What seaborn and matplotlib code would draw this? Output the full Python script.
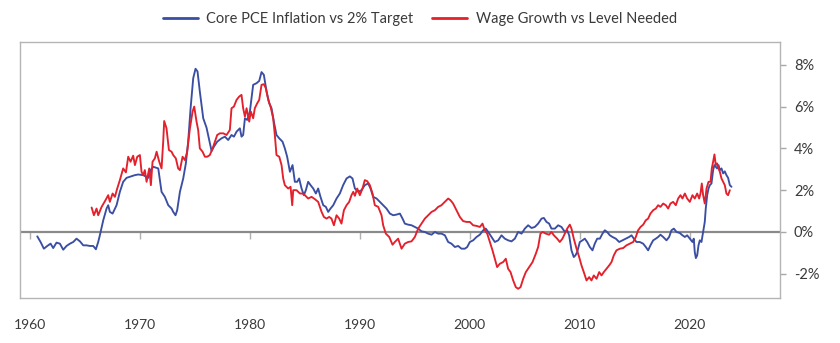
import pandas as pd
import matplotlib
matplotlib.use("Agg")
import matplotlib.pyplot as plt
import seaborn as sns

# Core PCE inflation minus the 2% target (percentage points)
core_pce_years = [
    1960.67, 1960.97, 1961.27, 1961.58, 1961.88, 1962.12, 1962.42, 1962.73, 1963.03, 1963.33,
    1963.64, 1963.94, 1964.24, 1964.55, 1964.85, 1965.15, 1965.45, 1965.76, 1966.00, 1966.21,
    1966.36, 1966.67, 1966.97, 1967.12, 1967.27, 1967.52, 1967.88, 1968.18, 1968.48, 1968.79,
    1969.09, 1969.55, 1969.85, 1970.30, 1970.76, 1970.97, 1971.21, 1971.67, 1971.97, 1972.27,
    1972.58, 1972.88, 1973.03, 1973.24, 1973.39, 1973.64, 1973.94, 1974.18, 1974.39, 1974.61,
    1974.85, 1975.06, 1975.24, 1975.45, 1975.76, 1976.06, 1976.27, 1976.52, 1976.73, 1977.03,
    1977.42, 1977.73, 1978.03, 1978.33, 1978.55, 1978.79, 1979.09, 1979.24, 1979.39, 1979.55,
    1979.76, 1980.00, 1980.30, 1980.61, 1980.85, 1981.06, 1981.27, 1981.52, 1981.76, 1981.97,
    1982.18, 1982.42, 1982.67, 1982.97, 1983.18, 1983.39, 1983.64, 1983.88, 1984.09, 1984.30,
    1984.48, 1984.70, 1984.91, 1985.09, 1985.30, 1985.52, 1985.76, 1986.00, 1986.21, 1986.42,
    1986.67, 1986.91, 1987.12, 1987.33, 1987.58, 1987.88, 1988.18, 1988.48, 1988.79, 1989.09,
    1989.33, 1989.55, 1989.85, 1990.15, 1990.45, 1990.76, 1990.97, 1991.21, 1991.52, 1991.82,
    1992.12, 1992.42, 1992.73, 1993.03, 1993.33, 1993.64, 1993.88, 1994.09, 1994.39, 1994.70,
    1995.00, 1995.30, 1995.61, 1995.91, 1996.21, 1996.52, 1996.82, 1997.12, 1997.42, 1997.73,
    1998.03, 1998.33, 1998.64, 1998.94, 1999.24, 1999.55, 1999.76, 2000.00, 2000.30, 2000.61,
    2000.91, 2001.21, 2001.45, 2001.67, 2001.97, 2002.27, 2002.58, 2002.88, 2003.18, 2003.48,
    2003.79, 2004.09, 2004.39, 2004.70, 2005.00, 2005.30, 2005.61, 2005.91, 2006.21, 2006.52,
    2006.73, 2006.97, 2007.21, 2007.42, 2007.73, 2008.03, 2008.33, 2008.64, 2008.85, 2009.03,
    2009.24, 2009.45, 2009.60, 2009.76, 2010.00, 2010.24, 2010.45, 2010.67, 2010.91, 2011.15,
    2011.36, 2011.58, 2011.82, 2012.06, 2012.27, 2012.48, 2012.73, 2012.97, 2013.27, 2013.58,
    2013.88, 2014.18, 2014.48, 2014.70, 2014.91, 2015.15, 2015.45, 2015.76, 2016.00, 2016.21,
    2016.42, 2016.67, 2016.91, 2017.12, 2017.33, 2017.58, 2017.88, 2018.12, 2018.33, 2018.55,
    2018.79, 2019.09, 2019.33, 2019.55, 2019.76, 2020.00, 2020.24, 2020.36, 2020.45, 2020.55,
    2020.67, 2020.79, 2020.91, 2021.06, 2021.21, 2021.36, 2021.45, 2021.58, 2021.70, 2021.82,
    2021.97, 2022.12, 2022.24, 2022.36, 2022.48, 2022.61, 2022.73, 2022.88, 2023.03, 2023.18,
    2023.33, 2023.48, 2023.64, 2023.79,
]
core_pce_gap = [
    -0.21, -0.48, -0.80, -0.67, -0.56, -0.77, -0.51, -0.56, -0.85, -0.67,
    -0.56, -0.48, -0.32, -0.45, -0.64, -0.64, -0.67, -0.67, -0.83, -0.48,
    -0.16, 0.56, 1.12, 1.28, 0.96, 0.88, 1.28, 1.92, 2.40, 2.59,
    2.64, 2.72, 2.75, 2.72, 2.59, 2.96, 3.12, 3.04, 1.92, 1.68,
    1.28, 1.12, 0.96, 0.80, 1.04, 1.92, 2.56, 3.28, 4.32, 5.92,
    7.36, 7.81, 7.68, 6.72, 5.44, 4.99, 4.48, 3.87, 4.08, 4.32,
    4.48, 4.56, 4.40, 4.64, 4.56, 4.80, 4.96, 4.56, 4.64, 5.44,
    5.36, 5.76, 7.04, 7.12, 7.23, 7.65, 7.52, 6.72, 6.16, 5.92,
    5.28, 4.64, 4.48, 4.32, 4.00, 3.60, 2.88, 3.20, 2.40, 2.40,
    2.56, 2.08, 1.76, 2.00, 2.40, 2.24, 2.08, 1.84, 2.08, 1.68,
    1.28, 1.20, 0.96, 1.12, 1.28, 1.60, 1.84, 2.24, 2.56, 2.66,
    2.56, 2.08, 1.92, 2.00, 2.24, 2.32, 2.08, 1.68, 1.60, 1.44,
    1.28, 1.12, 0.88, 0.80, 0.83, 0.88, 0.64, 0.40, 0.35, 0.32,
    0.24, 0.16, 0.03, 0.00, -0.08, -0.13, 0.00, -0.08, -0.08, -0.16,
    -0.48, -0.56, -0.72, -0.67, -0.80, -0.80, -0.72, -0.48, -0.40, -0.24,
    -0.13, 0.08, 0.16, 0.00, -0.24, -0.48, -0.40, -0.16, -0.32, -0.40,
    -0.45, -0.32, 0.00, -0.08, 0.16, 0.32, 0.19, 0.24, 0.40, 0.64,
    0.67, 0.48, 0.40, 0.16, 0.16, 0.32, 0.24, 0.00, 0.08, -0.16,
    -0.88, -1.20, -1.12, -0.96, -0.48, -0.40, -0.32, -0.48, -0.72, -0.88,
    -0.56, -0.32, -0.32, -0.08, 0.08, 0.00, -0.16, -0.24, -0.32, -0.48,
    -0.40, -0.32, -0.24, -0.16, -0.32, -0.48, -0.48, -0.56, -0.72, -0.88,
    -0.64, -0.40, -0.32, -0.24, -0.13, -0.24, -0.40, -0.24, 0.08, 0.16,
    0.00, -0.05, -0.16, -0.24, -0.16, -0.32, -0.48, -0.32, -0.96, -1.25,
    -1.12, -0.64, -0.40, -0.48, 0.00, 0.48, 1.12, 1.76, 2.08, 2.24,
    2.32, 2.96, 3.20, 3.12, 3.04, 3.20, 2.96, 3.04, 2.80, 2.90,
    2.72, 2.59, 2.24, 2.16,
]

# Wage growth minus the level consistent with the target (percentage points)
wage_years = [
    1965.61, 1965.82, 1966.06, 1966.21, 1966.52, 1966.82, 1967.12, 1967.27, 1967.52, 1967.73,
    1967.94, 1968.18, 1968.48, 1968.73, 1968.94, 1969.15, 1969.39, 1969.55, 1969.76, 1970.00,
    1970.15, 1970.30, 1970.45, 1970.61, 1970.85, 1971.00, 1971.15, 1971.36, 1971.52, 1971.76,
    1971.97, 1972.12, 1972.21, 1972.42, 1972.64, 1972.88, 1973.03, 1973.27, 1973.48, 1973.64,
    1973.88, 1974.09, 1974.30, 1974.55, 1974.79, 1974.94, 1975.15, 1975.30, 1975.45, 1975.70,
    1975.91, 1976.12, 1976.36, 1976.61, 1976.82, 1977.03, 1977.27, 1977.58, 1977.88, 1978.18,
    1978.33, 1978.55, 1978.79, 1979.03, 1979.24, 1979.39, 1979.55, 1979.70, 1979.94, 1980.09,
    1980.30, 1980.45, 1980.67, 1980.85, 1981.06, 1981.27, 1981.45, 1981.67, 1981.88, 1982.12,
    1982.27, 1982.42, 1982.67, 1982.88, 1983.03, 1983.18, 1983.48, 1983.70, 1983.85, 1983.94,
    1984.24, 1984.55, 1984.79, 1985.00, 1985.30, 1985.61, 1985.91, 1986.21, 1986.52, 1986.73,
    1986.97, 1987.21, 1987.42, 1987.64, 1987.88, 1988.12, 1988.33, 1988.55, 1988.79, 1989.03,
    1989.24, 1989.40, 1989.55, 1989.76, 1990.00, 1990.24, 1990.45, 1990.67, 1990.91, 1991.15,
    1991.36, 1991.67, 1991.97, 1992.12, 1992.36, 1992.67, 1992.97, 1993.18, 1993.48, 1993.79,
    1994.09, 1994.39, 1994.70, 1995.00, 1995.30, 1995.61, 1995.91, 1996.21, 1996.52, 1996.82,
    1997.12, 1997.42, 1997.73, 1998.03, 1998.24, 1998.48, 1998.79, 1999.09, 1999.39, 1999.70,
    2000.00, 2000.30, 2000.61, 2000.91, 2001.15, 2001.36, 2001.58, 2001.82, 2002.06, 2002.27,
    2002.48, 2002.73, 2003.03, 2003.27, 2003.48, 2003.70, 2003.94, 2004.18, 2004.39, 2004.61,
    2004.85, 2005.09, 2005.39, 2005.70, 2006.00, 2006.21, 2006.42, 2006.61, 2006.91, 2007.21,
    2007.42, 2007.64, 2007.94, 2008.18, 2008.42, 2008.64, 2008.85, 2009.09, 2009.24, 2009.45,
    2009.70, 2009.94, 2010.15, 2010.36, 2010.61, 2010.85, 2011.06, 2011.27, 2011.52, 2011.76,
    2011.97, 2012.18, 2012.42, 2012.67, 2012.88, 2013.09, 2013.33, 2013.64, 2013.94, 2014.24,
    2014.55, 2014.85, 2015.09, 2015.30, 2015.52, 2015.76, 2016.00, 2016.21, 2016.42, 2016.67,
    2016.91, 2017.12, 2017.33, 2017.58, 2017.82, 2018.03, 2018.24, 2018.48, 2018.73, 2018.94,
    2019.15, 2019.33, 2019.55, 2019.76, 2020.00, 2020.24, 2020.45, 2020.67, 2020.85, 2020.97,
    2021.09, 2021.21, 2021.36, 2021.52, 2021.70, 2021.88, 2022.00, 2022.12, 2022.24, 2022.36,
    2022.48, 2022.61, 2022.73, 2022.88, 2023.03, 2023.18, 2023.33, 2023.48, 2023.64,
]
wage_gap = [
    1.17, 0.80, 1.12, 0.80, 1.20, 1.47, 1.76, 1.44, 1.84, 1.68,
    2.08, 2.48, 3.04, 2.85, 3.60, 3.36, 3.65, 3.20, 3.60, 3.68,
    2.88, 2.72, 2.96, 2.40, 3.04, 2.24, 3.36, 3.52, 3.84, 3.36,
    3.04, 4.32, 5.31, 4.96, 3.92, 3.84, 3.68, 3.52, 3.04, 2.96,
    3.60, 3.44, 3.84, 4.96, 5.76, 6.00, 5.28, 4.88, 4.00, 3.84,
    3.60, 3.60, 3.68, 4.00, 4.32, 4.64, 4.72, 4.72, 4.64, 4.88,
    5.92, 6.00, 6.32, 6.48, 6.56, 5.92, 5.52, 5.92, 5.28, 5.76,
    5.44, 5.92, 6.16, 6.32, 7.04, 7.07, 6.88, 6.32, 6.00, 5.44,
    4.64, 3.68, 3.60, 3.20, 2.56, 2.24, 2.08, 2.16, 1.28, 2.00,
    2.00, 1.84, 1.84, 1.76, 1.60, 1.68, 1.57, 1.44, 0.96, 0.72,
    0.64, 0.72, 0.64, 0.32, 0.80, 0.64, 0.40, 1.04, 1.28, 1.44,
    1.76, 1.92, 1.73, 2.08, 1.76, 2.08, 2.48, 2.43, 2.24, 1.84,
    1.28, 1.20, 0.80, 0.32, -0.08, -0.24, -0.61, -0.48, -0.32, -0.80,
    -0.56, -0.48, -0.45, -0.24, 0.16, 0.40, 0.64, 0.80, 0.96, 1.04,
    1.20, 1.28, 1.44, 1.60, 1.52, 1.36, 1.04, 0.72, 0.52, 0.48,
    0.48, 0.32, 0.29, 0.24, 0.40, 0.08, -0.08, -0.48, -0.88, -1.28,
    -1.68, -1.52, -1.44, -1.28, -1.76, -1.92, -2.32, -2.64, -2.72, -2.64,
    -2.24, -1.92, -1.68, -1.44, -1.04, -0.72, -0.08, 0.00, -0.08, -0.13,
    0.00, -0.16, -0.32, -0.48, -0.32, -0.08, 0.16, 0.35, 0.16, -0.32,
    -0.80, -1.20, -1.60, -1.92, -2.32, -2.16, -2.32, -2.08, -2.24, -1.92,
    -2.08, -1.92, -1.76, -1.60, -1.44, -1.12, -0.88, -0.80, -0.77, -0.64,
    -0.56, -0.48, -0.24, 0.08, 0.24, 0.35, 0.56, 0.64, 0.88, 1.04,
    1.12, 1.28, 1.20, 1.36, 1.28, 1.12, 1.36, 1.44, 1.28, 1.60,
    1.76, 1.60, 1.84, 1.60, 1.44, 1.76, 1.60, 1.84, 1.60, 1.84,
    2.32, 1.76, 1.36, 2.08, 2.40, 2.40, 3.04, 3.36, 3.71, 3.20,
    3.28, 3.04, 2.88, 2.56, 2.40, 2.24, 1.84, 1.76, 2.00,
]

series_names = ["Core PCE Inflation vs 2% Target", "Wage Growth vs Level Needed"]
series_colors = ["#3a4ea3", "#e3202b"]
year_ticks = [1960, 1970, 1980, 1990, 2000, 2010, 2020]
pct_ticks = [-2, 0, 2, 4, 6, 8]

sns.set_theme(style="white")
plt.rcParams["font.family"] = ["Lato", "DejaVu Sans"]

df = pd.concat([
    pd.DataFrame({"year": core_pce_years, "gap": core_pce_gap, "series": series_names[0]}),
    pd.DataFrame({"year": wage_years, "gap": wage_gap, "series": series_names[1]}),
], ignore_index=True)

W, H = 840, 343
fig = plt.figure(figsize=(W / 100, H / 100), dpi=100)
ax = fig.add_axes([20 / W, 45 / H, 760 / W, 256 / H])

sns.lineplot(data=df, x="year", y="gap", hue="series", hue_order=series_names,
             palette=series_colors, estimator=None, sort=False, linewidth=1.35, ax=ax)

# zero line with small decade ticks hanging below it
ax.axhline(0, color="#8a8a8a", lw=1.6, zorder=1.5)
ax.plot(year_ticks, [0] * len(year_ticks), linestyle="none", marker=3,
        markersize=5, markeredgewidth=1.0, color="#b0b0b0", zorder=1.4)

ax.set_xlim(1959.1, 2028.2)
ax.set_ylim(-3.16, 9.09)
ax.set_xlabel("")
ax.set_ylabel("")

text_color = "#3a3a3a"
ax.set_xticks(year_ticks)
ax.set_xticklabels([str(y) for y in year_ticks])
ax.tick_params(axis="x", bottom=True, length=0, pad=15, labelsize=10, labelcolor=text_color)

ax.yaxis.tick_right()
ax.set_yticks(pct_ticks)
ax.set_yticklabels([f"{v}%" for v in pct_ticks])
ax.tick_params(axis="y", right=True, left=False, length=4, width=1, color="#a8a8a8", pad=6,
               labelsize=10.5, labelcolor=text_color)

for side in ["left", "right", "top", "bottom"]:
    ax.spines[side].set_visible(True)
    ax.spines[side].set_color("#b4b4b4")
    ax.spines[side].set_linewidth(1.0)

handles, labels = ax.get_legend_handles_labels()
ax.get_legend().remove()
leg = fig.legend(handles, labels, loc="center", bbox_to_anchor=(0.5, 1 - 19 / H),
                 ncol=2, frameon=False, fontsize=10.5, handlelength=2.4,
                 handletextpad=0.6, columnspacing=1.3)
for line in leg.get_lines():
    line.set_linewidth(2.0)
for t in leg.get_texts():
    t.set_color(text_color)

fig.savefig("out.png", dpi=100)
